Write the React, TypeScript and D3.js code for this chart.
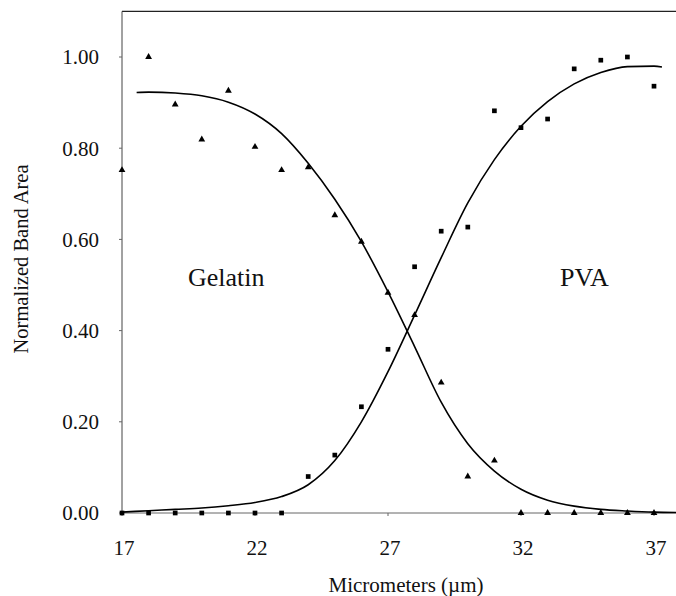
import React from "react";
import * as d3 from "d3";

const micrometers = [17, 18, 19, 20, 21, 22, 23, 24, 25, 26, 27, 28, 29, 30, 31, 32, 33, 34, 35, 36, 37];
const gelatinValues = [0.752, 1.0, 0.896, 0.819, 0.926, 0.803, 0.752, 0.758, 0.653, 0.595, 0.483, 0.434, 0.286, 0.08, 0.115, 0, 0, 0, 0, 0, 0];
const pvaValues = [0, 0, 0, 0, 0, 0, 0, 0.08, 0.127, 0.233, 0.359, 0.54, 0.618, 0.627, 0.882, 0.845, 0.864, 0.974, 0.993, 1.0, 0.936];

const gelatinFitX = [17.55, 18, 19, 20, 21, 22, 23, 24, 25, 26, 27, 28, 29, 30, 31, 32, 33, 34, 35, 36, 37, 38];
const gelatinFitY = [0.922, 0.923, 0.921, 0.915, 0.901, 0.875, 0.832, 0.767, 0.688, 0.595, 0.485, 0.365, 0.243, 0.152, 0.092, 0.052, 0.028, 0.015, 0.008, 0.0045, 0.002, 0.001];
const pvaFitX = [17, 18, 19, 20, 21, 22, 23, 24, 25, 26, 27, 28, 29, 30, 31, 32, 33, 34, 35, 36, 37, 37.3];
const pvaFitY = [0.002, 0.005, 0.008, 0.011, 0.016, 0.023, 0.036, 0.062, 0.115, 0.2, 0.31, 0.434, 0.56, 0.68, 0.775, 0.848, 0.902, 0.941, 0.966, 0.979, 0.98, 0.978];

const xTicks = [17, 22, 27, 32, 37];
const yTicks = [0, 0.2, 0.4, 0.6, 0.8, 1.0];

const FONT = "Liberation Serif, Times New Roman, serif";

export default function App() {
  const W = 676, H = 596;
  const x = d3.scaleLinear().domain([17, 38]).range([122, 122 + 21 * 26.6]);
  const y = d3.scaleLinear().domain([0, 1.1]).range([513, 513 - 1.1 * 456]);

  const line = d3
    .line<[number, number]>()
    .x((d) => x(d[0]))
    .y((d) => y(d[1]))
    .curve(d3.curveMonotoneX);

  const gelFit = gelatinFitX.map((v, i) => [v, gelatinFitY[i]] as [number, number]);
  const pvaFit = pvaFitX.map((v, i) => [v, pvaFitY[i]] as [number, number]);

  const tri = d3.symbol().type(d3.symbolTriangle).size(20)() as string;
  const sq = d3.symbol().type(d3.symbolSquare).size(22)() as string;

  const x0 = x(17), y0 = y(0), yTop = y(1.1);
  const txt = { fontFamily: FONT, fill: "#111" } as React.CSSProperties;

  return (
    <svg width={W} height={H} style={{ position: "absolute", left: 0, top: 0, background: "#fff" }}>
      <rect x={0} y={0} width={W} height={H} fill="#fff" />
      <line x1={x0} x2={W} y1={yTop} y2={yTop} stroke="#222" strokeWidth={1.2} />
      <line x1={x0} x2={x0} y1={yTop} y2={y0} stroke="#444" strokeWidth={1} />
      <line x1={x0} x2={W} y1={y0} y2={y0} stroke="#666" strokeWidth={1} />
      {yTicks.map((t) => (
        <g key={"y" + t}>
          <line x1={x0 - 3} x2={x0} y1={y(t)} y2={y(t)} stroke="#666" strokeWidth={1} />
          <text x={99} y={y(t)} dy="0.35em" textAnchor="end" style={{ ...txt, fontSize: 21 }}>
            {t.toFixed(2)}
          </text>
        </g>
      ))}
      {xTicks.map((t) => (
        <g key={"x" + t}>
          <line x1={x(t)} x2={x(t)} y1={y0} y2={y0 + 3} stroke="#666" strokeWidth={1} />
          <text x={x(t) + 2} y={555} textAnchor="middle" style={{ ...txt, fontSize: 21 }}>
            {t}
          </text>
        </g>
      ))}
      <text transform={`translate(28,259) rotate(-90)`} textAnchor="middle" style={{ ...txt, fontSize: 20.5 }}>
        Normalized Band Area
      </text>
      <text x={406} y={592} textAnchor="middle" style={{ ...txt, fontSize: 21 }}>
        Micrometers (µm)
      </text>
      <path d={line(gelFit) ?? ""} fill="none" stroke="#000" strokeWidth={1.6} />
      <path d={line(pvaFit) ?? ""} fill="none" stroke="#000" strokeWidth={1.6} />
      {micrometers.map((m, i) => (
        <path key={"g" + m} d={tri} transform={`translate(${x(m)},${y(gelatinValues[i])})`} fill="#000" />
      ))}
      {micrometers.map((m, i) => (
        <path key={"p" + m} d={sq} transform={`translate(${x(m)},${y(pvaValues[i])})`} fill="#000" />
      ))}
      <text x={188} y={286} style={{ ...txt, fontSize: 26 }}>
        Gelatin
      </text>
      <text x={560} y={286} style={{ ...txt, fontSize: 26 }}>
        PVA
      </text>
    </svg>
  );
}
